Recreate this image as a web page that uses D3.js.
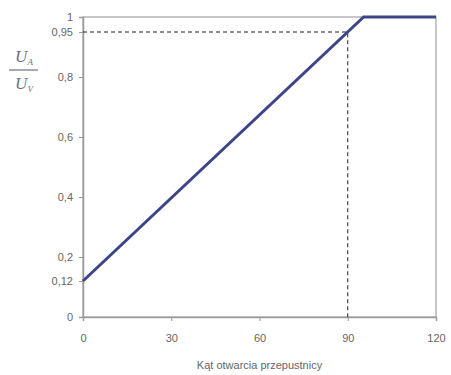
<!DOCTYPE html>
<html><head><meta charset="utf-8">
<script src="https://cdn.jsdelivr.net/npm/d3@7"></script>
<style>body{margin:0;background:#fff;} svg{display:block;}</style>
</head><body>
<svg id="c" width="451" height="375"></svg>
<script>
const angle = [0, 95.4, 120];
const ratio = [0.12, 1, 1];
const xTicks = [0, 30, 60, 90, 120];
const yTicks = [0, 0.12, 0.2, 0.4, 0.6, 0.8, 0.95, 1];
const refAngle = 90, refRatio = 0.95;
const xTitle = "Kąt otwarcia przepustnicy";

const svg = d3.select("#c");
const x = d3.scaleLinear().domain([0,120]).range([83,436]);
const y = d3.scaleLinear().domain([0,1]).range([317,17]);
const fmt = d => String(d).replace(".", ",");
const axisColor = "#9a9a9a", textColor = "#666";

// frame
svg.append("rect").attr("x",x(0)).attr("y",y(1)).attr("width",x(120)-x(0)).attr("height",y(0)-y(1))
  .attr("fill","none").attr("stroke","#b5b5b5").attr("stroke-width",1.5);

// axes
const gx = svg.append("g").attr("transform",`translate(0,${y(0)})`)
  .call(d3.axisBottom(x).tickValues(xTicks).tickSize(4).tickFormat(fmt));
const gy = svg.append("g").attr("transform",`translate(${x(0)},0)`)
  .call(d3.axisLeft(y).tickValues(yTicks).tickSize(4).tickFormat(fmt));
[gx,gy].forEach(g=>{
  g.select(".domain").attr("stroke",axisColor).attr("stroke-width",1.5);
  g.selectAll(".tick line").attr("stroke",axisColor);
  g.selectAll(".tick text").attr("fill",textColor).attr("font-family","Liberation Sans, Arial, sans-serif").attr("font-size",11);
});
gx.selectAll(".tick text").attr("dy","1.6em");
gy.selectAll(".tick text").attr("x",-10);

// dashed reference lines
svg.append("path").attr("d",`M${x(0)},${y(refRatio)}H${x(refAngle)}V${y(0)}`)
  .attr("fill","none").attr("stroke","#222").attr("stroke-width",1).attr("stroke-dasharray","4,3");

// data line
const pts = angle.map((a,i)=>[a,ratio[i]]);
svg.append("path").datum(pts)
  .attr("d",d3.line().x(d=>x(d[0])).y(d=>y(d[1])))
  .attr("fill","none").attr("stroke","#3d4488").attr("stroke-width",3);

// x title
svg.append("text").attr("x",(x(0)+x(120))/2).attr("y",369).attr("text-anchor","middle")
  .attr("fill",textColor).attr("font-family","Liberation Sans, Arial, sans-serif").attr("font-size",11)
  .text(xTitle);

// y label fraction
const fr = svg.append("g").attr("fill","#6a6f8a").attr("font-family","Liberation Serif, Times New Roman, serif").attr("font-style","italic");
const t1 = fr.append("text").attr("x",24).attr("y",62).attr("text-anchor","middle").attr("font-size",17);
t1.append("tspan").text("U");
t1.append("tspan").attr("font-size",9).attr("dy",3).text("A");
fr.append("line").attr("x1",9).attr("x2",38).attr("y1",70).attr("y2",70).attr("stroke","#6a6f8a").attr("stroke-width",1.2);
const t2 = fr.append("text").attr("x",24).attr("y",89).attr("text-anchor","middle").attr("font-size",17);
t2.append("tspan").text("U");
t2.append("tspan").attr("font-size",9).attr("dy",3).text("V");
</script>
</body></html>
